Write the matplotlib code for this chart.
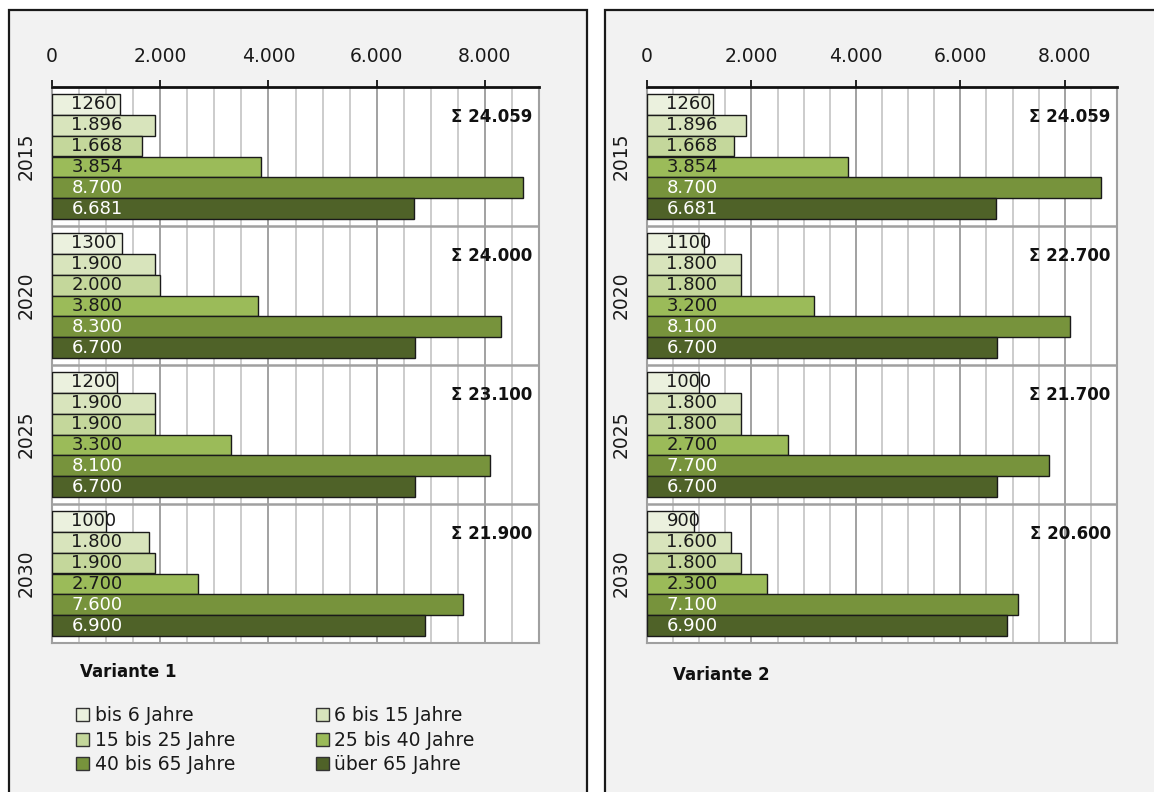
import matplotlib.pyplot as plt
import matplotlib.patches as mpatches
import numpy as np

# Data
years = ["2015", "2020", "2025", "2030"]
groups = ["bis 6 Jahre", "6 bis 15 Jahre", "15 bis 25 Jahre",
          "25 bis 40 Jahre", "40 bis 65 Jahre", "über 65 Jahre"]

# rows = years, one list per age group
v1_bis6 = [1260, 1300, 1200, 1000]
v1_6_15 = [1896, 1900, 1900, 1800]
v1_15_25 = [1668, 2000, 1900, 1900]
v1_25_40 = [3854, 3800, 3300, 2700]
v1_40_65 = [8700, 8300, 8100, 7600]
v1_65 = [6681, 6700, 6700, 6900]

v2_bis6 = [1260, 1100, 1000, 900]
v2_6_15 = [1896, 1800, 1800, 1600]
v2_15_25 = [1668, 1800, 1800, 1800]
v2_25_40 = [3854, 3200, 2700, 2300]
v2_40_65 = [8700, 8100, 7700, 7100]
v2_65 = [6681, 6700, 6700, 6900]

xticks = [0, 2000, 4000, 6000, 8000]

# Colors
COLORS = ["#ebf1de", "#d8e4bc", "#c4d79b", "#9bbb59", "#77933c", "#4f6228"]
TXT = ["#1a1a1a", "#1a1a1a", "#1a1a1a", "#1a1a1a", "#ffffff", "#ffffff"]
PANEL = "#f2f2f2"
EDGE = "#1a1a1a"

W, H = 1154, 792
fig = plt.figure(figsize=(W / 100, H / 100), dpi=100)
fig.patch.set_facecolor("white")
plt.rcParams["font.family"] = "DejaVu Sans"


def fx(px):
    return px / W


def fy(py):
    return 1 - py / H


# Panels (gray boxes with dark borders), behind the axes
for x0, x1 in [(9, 587), (605, 1180)]:
    fig.patches.append(mpatches.Rectangle(
        (fx(x0), fy(820)), fx(x1 - x0), (820 - 10) / H,
        transform=fig.transFigure, facecolor=PANEL, edgecolor=EDGE,
        linewidth=1.6, zorder=-5))


def fmt(v, j):
    if j == 0:
        return str(v)
    return f"{v:,}".replace(",", ".")


def draw(ax, series):
    n = len(series)
    h = 0.151
    y = np.arange(len(years))
    ax.set_facecolor("white")
    for j, vals in enumerate(series):
        pos = y + (j - (n - 1) / 2) * h
        ax.barh(pos, vals, height=h, color=COLORS[j], edgecolor=EDGE,
                linewidth=1.0, zorder=3)
        for p, v in zip(pos, vals):
            ax.annotate(fmt(v, j), (0, p), xytext=(14, 0),
                        textcoords="offset points", ha="left", va="center",
                        fontsize=13, color=TXT[j], zorder=4)
    totals = np.sum(series, axis=0)
    for i, t in enumerate(totals):
        ax.text(8880, i - 0.284, "Σ " + f"{t:,}".replace(",", "."),
                ha="right", va="center", fontsize=12, fontweight="bold",
                color="#111111", zorder=4)

    ax.set_xlim(0, 9000)
    ax.set_ylim(len(years) - 0.5, -0.5)
    ax.xaxis.tick_top()
    ax.set_xticks(xticks)
    ax.set_xticklabels(["0" if t == 0 else f"{t:,}".replace(",", ".") for t in xticks],
                       fontsize=13.5, color="#1a1a1a")
    ax.set_xticks(np.arange(0, 9001, 500), minor=True)
    ax.tick_params(axis="x", which="major", length=5, width=1.3, color="#111111", pad=10)
    ax.tick_params(axis="x", which="minor", length=0)
    ax.grid(axis="x", which="minor", color="#c8c8c8", linewidth=1.3, zorder=1)
    ax.grid(axis="x", which="major", color="#9a9a9a", linewidth=1.3, zorder=1)

    ax.set_yticks(y)
    ax.set_yticklabels(years, rotation=90, va="center", fontsize=13.5, color="#1a1a1a")
    ax.tick_params(axis="y", length=0, pad=12)
    for b in np.arange(0.5, len(years) - 0.5, 1):
        ax.axhline(b, color="#a0a0a0", linewidth=1.8, zorder=2)

    for s in ["left", "right", "bottom"]:
        ax.spines[s].set_color("#a0a0a0")
        ax.spines[s].set_linewidth(1.5)
    ax.spines["top"].set_color("#111111")
    ax.spines["top"].set_linewidth(2.0)
    ax.set_axisbelow(True)


ax1 = fig.add_axes([fx(52), fy(643), fx(487), 556 / H])
ax2 = fig.add_axes([fx(647), fy(643), fx(470), 556 / H])

draw(ax1, [v1_bis6, v1_6_15, v1_15_25, v1_25_40, v1_40_65, v1_65])
draw(ax2, [v2_bis6, v2_6_15, v2_15_25, v2_25_40, v2_40_65, v2_65])

fig.text(fx(80), fy(672), "Variante 1", fontsize=12, fontweight="bold",
         ha="left", va="center", color="#111111")
fig.text(fx(673), fy(675), "Variante 2", fontsize=12, fontweight="bold",
         ha="left", va="center", color="#111111")

# legend filled row by row, two columns
handles = [mpatches.Patch(facecolor=c, edgecolor="#333333", linewidth=1.0)
           for c in COLORS]
order = [0, 2, 4, 1, 3, 5]
fig.legend([handles[i] for i in order], [groups[i] for i in order],
           loc="upper left", bbox_to_anchor=(fx(76), fy(706)),
           ncol=2, frameon=False, fontsize=13.5, handlelength=0.7,
           handleheight=0.7, handletextpad=0.3, labelspacing=0.3,
           columnspacing=4.3, borderpad=0, borderaxespad=0,
           labelcolor="#1a1a1a")

plt.savefig("out.png", dpi=100, facecolor="white")
